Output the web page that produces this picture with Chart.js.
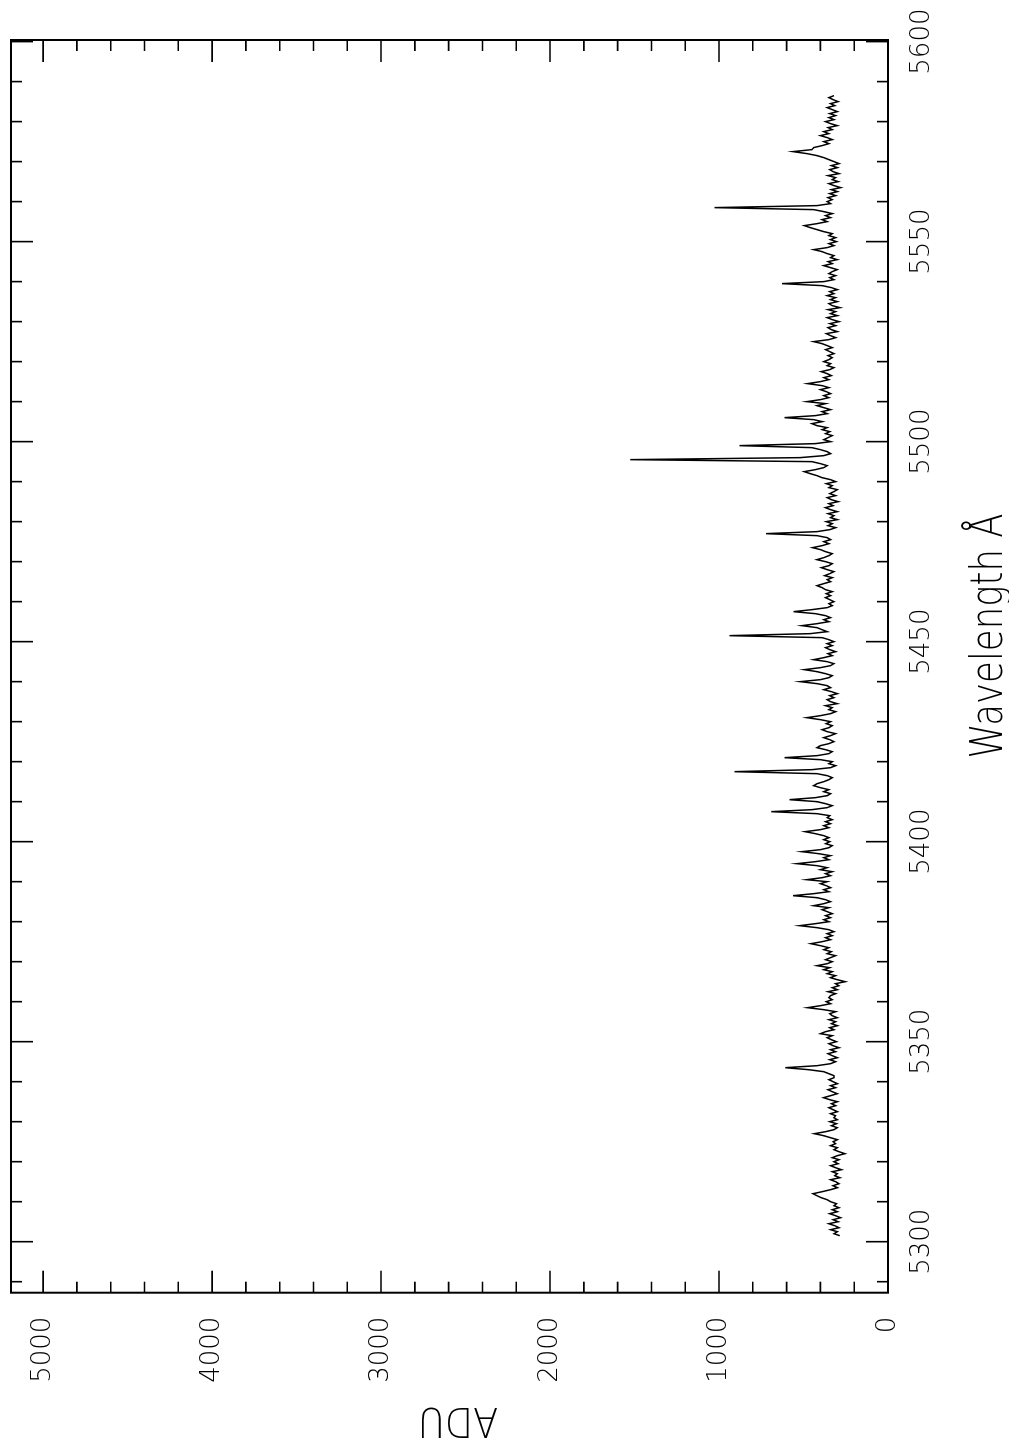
<!DOCTYPE html>
<html>
<head>
<meta charset="utf-8">
<script src="https://cdn.jsdelivr.net/npm/chart.js@4.4.1/dist/chart.umd.min.js"></script>
<style>
  html, body { margin: 0; padding: 0; background: #fff; overflow: hidden; }
  /* the plot is drawn landscape and turned a quarter turn counter-clockwise */
  #wrap {
    position: absolute; left: 0; top: 0; width: 1454px; height: 1009px;
    transform-origin: 0 0; transform: translate(0px, 1454px) rotate(-90deg);
  }
  canvas { display: block; }
</style>
</head>
<body>
<div id="wrap"><canvas id="spec" width="1454" height="1009" style="width:1454px;height:1009px"></canvas></div>
<script>
// spectrum: flux in ADU on a 0.5 Å grid starting at 5301.5 Å
const lambdaStart = 5301.5;
const lambdaStep = 0.5;
const adu = [
  285, 320, 300, 340, 290, 315, 350, 295, 325, 280, 310, 345, 300, 330, 290, 320, 305, 340, 360, 395,
  420, 444, 390, 340, 300, 325, 290, 310, 340, 285, 315, 300, 330, 275, 310, 340, 295, 320, 290, 330,
  300, 255, 290, 320, 300, 340, 310, 325, 300, 340, 380, 436, 370, 320, 300, 335, 305, 345, 300, 320,
  310, 340, 300, 325, 350, 310, 335, 300, 345, 381, 340, 300, 330, 355, 310, 340, 300, 325, 350, 320,
  320, 350, 380, 470, 608, 420, 340, 310, 345, 300, 330, 355, 310, 340, 290, 325, 350, 305, 335, 360,
  330, 400, 370, 320, 345, 300, 335, 310, 350, 300, 330, 345, 310, 380, 476, 400, 340, 365, 330, 350,
  340, 310, 355, 300, 330, 290, 310, 253, 300, 340, 310, 360, 330, 380, 345, 420, 360, 330, 370, 340,
  310, 360, 335, 380, 350, 400, 456, 390, 340, 370, 330, 360, 320, 350, 420, 523, 430, 350, 380, 340,
  370, 330, 360, 390, 350, 440, 380, 340, 370, 420, 562, 440, 350, 380, 340, 365, 400, 360, 480, 390,
  340, 370, 330, 400, 360, 420, 539, 430, 350, 380, 340, 410, 509, 400, 350, 330, 370, 345, 380, 350,
  380, 430, 490, 400, 350, 380, 340, 370, 330, 360, 345, 420, 691, 450, 360, 330, 370, 420, 582, 430,
  360, 340, 380, 350, 400, 440, 420, 380, 350, 330, 360, 420, 908, 450, 340, 310, 350, 330, 400, 612,
  420, 350, 330, 370, 420, 400, 350, 320, 345, 380, 340, 310, 360, 390, 350, 330, 365, 340, 400, 480,
  400, 340, 310, 350, 330, 370, 300, 340, 360, 320, 345, 300, 335, 380, 340, 360, 420, 519, 400, 350,
  330, 370, 420, 495, 400, 340, 320, 360, 440, 380, 330, 355, 310, 345, 370, 330, 360, 320, 350, 390,
  938, 460, 360, 390, 420, 509, 420, 350, 380, 340, 370, 430, 559, 450, 360, 330, 350, 320, 345, 370,
  340, 365, 330, 370, 390, 420, 380, 340, 360, 330, 375, 345, 320, 360, 395, 350, 330, 370, 420, 380,
  350, 330, 370, 400, 446, 390, 350, 380, 340, 360, 420, 722, 420, 345, 310, 355, 330, 365, 300, 340,
  320, 355, 300, 340, 370, 325, 350, 295, 335, 360, 310, 345, 320, 300, 350, 330, 365, 310, 340, 390,
  420, 460, 495, 430, 380, 360, 400, 450, 1525, 520, 380, 340, 360, 400, 450, 878, 430, 340, 380, 355,
  330, 370, 345, 390, 360, 420, 450, 390, 440, 612, 430, 360, 390, 340, 380, 420, 370, 480, 400, 350,
  380, 340, 365, 400, 350, 390, 476, 400, 350, 380, 335, 360, 395, 345, 320, 360, 340, 380, 350, 330,
  355, 320, 345, 370, 330, 360, 390, 440, 350, 310, 340, 365, 300, 335, 355, 310, 345, 290, 330, 360,
  300, 340, 310, 355, 285, 330, 350, 300, 340, 310, 360, 320, 345, 300, 335, 390, 627, 380, 320, 345,
  310, 350, 330, 300, 340, 380, 330, 355, 300, 340, 320, 360, 390, 440, 360, 320, 350, 305, 340, 310,
  350, 330, 380, 420, 460, 495, 420, 360, 390, 340, 370, 330, 380, 440, 1027, 420, 340, 360, 330, 355,
  310, 345, 300, 335, 280, 320, 350, 295, 330, 310, 355, 290, 325, 345, 300, 335, 290, 320, 350, 380,
  420, 480, 562, 450, 440, 390, 350, 380, 330, 360, 400, 350, 380, 330, 355, 300, 340, 370, 320, 350,
  310, 345, 300, 330, 360, 315, 340, 295, 325, 350, 320
];

const wavelengthTicks = [5300, 5350, 5400, 5450, 5500, 5550, 5600];
const aduTicks = [0, 1000, 2000, 3000, 4000, 5000];
const wavelengthRange = [5287.25, 5600.4];
const aduRange = [0, 5190];
const xTitle = 'Wavelength Å';
const yTitle = 'ADU';

const points = adu.map((v, i) => ({ x: lambdaStart + i * lambdaStep, y: v }));

// draws a title squeezed to the width it has in the original plot
function fitText(ctx, text, x, y, width) {
  const w = ctx.measureText(text).width;
  ctx.save();
  ctx.translate(x, y);
  ctx.scale(width / w, 1);
  ctx.fillText(text, 0, 0);
  ctx.restore();
}

// frame with inward ticks on all four sides (long on labelled values), plus axis titles
const framePlugin = {
  id: 'frame',
  afterDraw(chart) {
    const { ctx, chartArea: a, scales: { x, y } } = chart;
    ctx.save();
    ctx.strokeStyle = '#000';
    ctx.lineWidth = 2;
    ctx.strokeRect(a.left, a.top, a.right - a.left, a.bottom - a.top);
    ctx.lineWidth = 1.6;
    ctx.beginPath();
    for (let w = 5290; w <= 5600; w += 10) {
      const px = x.getPixelForValue(w);
      const len = w % 50 === 0 ? 22 : 11;
      ctx.moveTo(px, a.bottom); ctx.lineTo(px, a.bottom - len);
      ctx.moveTo(px, a.top); ctx.lineTo(px, a.top + len);
    }
    for (let v = 0; v <= 5000; v += 200) {
      const py = y.getPixelForValue(v);
      const len = v % 1000 === 0 ? 22 : 11;
      ctx.moveTo(a.left, py); ctx.lineTo(a.left + len, py);
      ctx.moveTo(a.right, py); ctx.lineTo(a.right - len, py);
    }
    ctx.stroke();

    ctx.fillStyle = '#000';
    ctx.font = '200 44px "DejaVu Sans", sans-serif';
    ctx.textAlign = 'center';
    ctx.textBaseline = 'alphabetic';
    fitText(ctx, xTitle, 818, 1002, 245);
    ctx.translate(46, 458);
    ctx.rotate(-Math.PI / 2);
    ctx.font = '200 41px "DejaVu Sans", sans-serif';
    fitText(ctx, yTitle, 0, 0, 80);
    ctx.restore();
  }
};

const tickFont = { family: '"DejaVu Sans", sans-serif', size: 26, weight: '200' };

new Chart(document.getElementById('spec'), {
  type: 'line',
  data: {
    datasets: [{
      data: points,
      borderColor: '#000',
      borderWidth: 1.5,
      pointRadius: 0,
      tension: 0,
      fill: false
    }]
  },
  options: {
    responsive: false,
    animation: false,
    devicePixelRatio: 1,
    layout: { padding: { top: 11, right: 40, left: 0, bottom: 0 } },
    plugins: { legend: { display: false }, tooltip: { enabled: false } },
    scales: {
      x: {
        type: 'linear',
        min: wavelengthRange[0],
        max: wavelengthRange[1],
        grid: { display: false, drawTicks: false },
        border: { display: false },
        afterBuildTicks: (s) => { s.ticks = wavelengthTicks.map((v) => ({ value: v })); },
        afterFit: (s) => { s.height = 121; s.paddingLeft = 0; s.paddingRight = 0; },
        ticks: {
          autoSkip: false, maxRotation: 0, minRotation: 0, padding: 19,
          color: '#000', font: tickFont,
          callback: (v) => String(v)
        }
      },
      y: {
        type: 'linear',
        min: aduRange[0],
        max: aduRange[1],
        grid: { display: false, drawTicks: false },
        border: { display: false },
        afterBuildTicks: (s) => { s.ticks = aduTicks.map((v) => ({ value: v })); },
        afterFit: (s) => { s.width = 161.3; s.paddingTop = 0; s.paddingBottom = 0; },
        ticks: {
          autoSkip: false, padding: 24,
          color: '#000', font: tickFont,
          callback: (v) => String(v)
        }
      }
    }
  },
  plugins: [framePlugin]
});
</script>
</body>
</html>
